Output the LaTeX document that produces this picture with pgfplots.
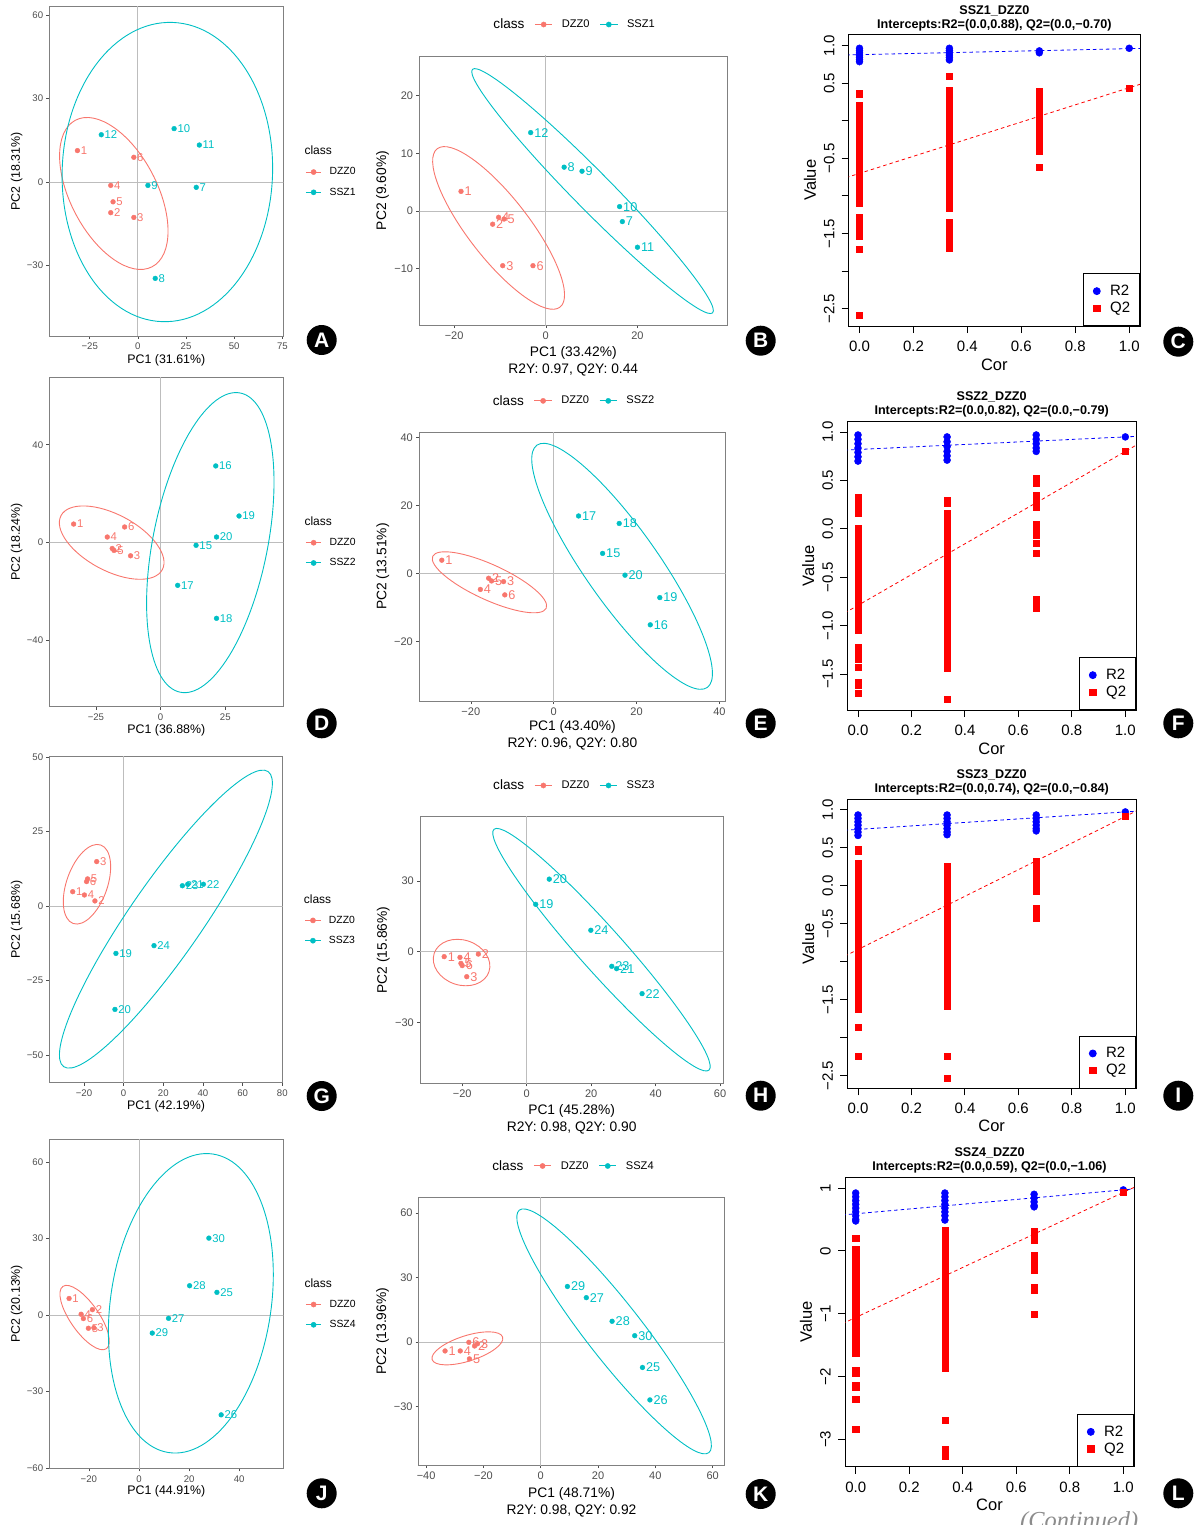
\documentclass[border=0pt]{standalone}
\usepackage{fontspec}
\setmainfont{Liberation Sans}
\newfontfamily\contfont{Liberation Serif}
\usepackage{pgfplots}
\pgfplotsset{compat=1.18}
\definecolor{gR}{HTML}{F8766D}
\definecolor{gC}{HTML}{00BFC4}
\definecolor{gtick}{HTML}{4D4D4D}
\definecolor{gframe}{HTML}{808080}
\definecolor{gref}{HTML}{BDBDBD}
\newcommand\fs[1]{\fontsize{#1}{#1}\selectfont}
\newcommand\confell[6]{\draw[#1, line width=0.9pt, rotate around={#4:(axis cs:#2,#3)}] (axis cs:#2,#3) ellipse [x radius=#5pt, y radius=#6pt];}
\newcommand\refl{\draw[gref, line width=0.8pt] (axis cs:0,-300) -- (axis cs:0,300); \draw[gref, line width=0.8pt] (axis cs:-300,0) -- (axis cs:300,0);}
\newcommand\badge[3]{\node[circle, fill=black, minimum size=30pt, inner sep=0pt, text=white, font=\fs{21}\bfseries] at (#1pt,-#2pt) {#3};}
\pgfplotsset{
 pca/.style={scale only axis, anchor=north west,
   axis line style={draw=gframe, line width=0.7pt},
   tick align=outside, tick pos=left, major tick length=3pt,
   tick style={gtick, line width=0.6pt},
   xticklabel style={text=gtick, inner sep=0pt, anchor=center, yshift=-7.5pt},
   yticklabel style={text=gtick, inner sep=0pt, anchor=east, xshift=-3pt},
   xlabel style={anchor=center, inner sep=0pt, align=center},
   ylabel style={anchor=center, inner sep=0pt},
   legend cell align=left},
 pcaL/.style={tick label style={font=\fs{9.6}}, label style={font=\fs{12.4}},
   legend style={at={(axis description cs:1.093,0.5)}, anchor=west, draw=none, fill=none, inner sep=0pt, font=\fs{10.4}, row sep=11.5pt, nodes={inner sep=0pt}, /tikz/every odd column/.append style={column sep=7.6pt}}},
 pcaM/.style={tick label style={font=\fs{11}}, label style={font=\fontsize{13.8}{16.7}\selectfont},
   legend columns=3,
   legend style={at={(axis description cs:0.211,1.117)}, anchor=west, draw=none, fill=none, inner sep=0pt, font=\fs{11.1}, nodes={inner sep=0pt}, /tikz/every odd column/.append style={column sep=9pt}, /tikz/every even column/.append style={column sep=10pt}}},
 ptbase/.style={only marks, mark=*, mark size=2.4pt, forget plot, nodes near coords, point meta=explicit symbolic},
 ptRL/.style={ptbase, color=gR, nodes near coords style={anchor=west, inner sep=0pt, xshift=3.2pt, text=gR, font=\fs{11.3}}},
 ptCL/.style={ptbase, color=gC, nodes near coords style={anchor=west, inner sep=0pt, xshift=3.2pt, text=gC, font=\fs{11.3}}},
 ptRM/.style={ptbase, color=gR, nodes near coords style={anchor=west, inner sep=0pt, xshift=3.4pt, text=gR, font=\fs{12.7}}},
 ptCM/.style={ptbase, color=gC, nodes near coords style={anchor=west, inner sep=0pt, xshift=3.4pt, text=gC, font=\fs{12.7}}},
 keyRL/.style={legend image code/.code={\draw[gR, line width=1pt] (0pt,0pt) -- (15.7pt,0pt); \fill[gR] (7.85pt,0pt) circle (2.6pt);}},
 keyCL/.style={legend image code/.code={\draw[gC, line width=1pt] (0pt,0pt) -- (15.7pt,0pt); \fill[gC] (7.85pt,0pt) circle (2.6pt);}},
 keyRM/.style={legend image code/.code={\draw[gR, line width=1pt] (0pt,0pt) -- (17.4pt,0pt); \fill[gR] (8.7pt,0pt) circle (2.6pt);}},
 keyCM/.style={legend image code/.code={\draw[gC, line width=1pt] (0pt,0pt) -- (17.4pt,0pt); \fill[gC] (8.7pt,0pt) circle (2.6pt);}},
 rplot/.style={scale only axis, anchor=north west, xmin=-0.04, xmax=1.04,
   axis line style={line width=0.9pt}, tick align=outside, tick pos=left, major tick length=7pt,
   tick style={black, line width=0.9pt},
   xtick={0,0.2,0.4,0.6,0.8,1}, xticklabels={0.0,0.2,0.4,0.6,0.8,1.0},
   tick label style={font=\fs{15}},
   xticklabel style={inner sep=0pt, anchor=center, yshift=-13.5pt},
   yticklabel style={inner sep=0pt, xshift=-12.5pt, rotate=90, anchor=center},
   xlabel={Cor}, ylabel={Value}, label style={font=\fs{16.5}},
   xlabel style={anchor=center, inner sep=0pt}, ylabel style={anchor=center, inner sep=0pt},
   title style={font=\fontsize{12.6}{14.3}\selectfont\bfseries, align=center, anchor=center, yshift=0pt, inner sep=0pt},
   legend cell align=left,
   legend style={at={(1,0)}, anchor=south east, draw=black, line width=0.8pt, fill=white, inner xsep=9.5pt, inner ysep=10.5pt, font=\fs{15}, row sep=3pt, nodes={inner ysep=1pt, inner xsep=0pt}, /tikz/every odd column/.append style={column sep=9.8pt}}},
 r2/.style={only marks, mark=*, mark size=3.5pt, color=blue},
 q2/.style={only marks, mark=square*, mark size=3.1pt, color=red},
 lnB/.style={blue, dash pattern=on 3.5pt off 3pt, line width=0.8pt, forget plot},
 lnR/.style={red, dash pattern=on 3.5pt off 3pt, line width=0.8pt, forget plot},
}
\begin{document}
\begin{tikzpicture}
\useasboundingbox (0pt,0pt) rectangle (1198pt,-1525pt);

% ---------------- A ----------------
\begin{axis}[pca, pcaL, at={(49.3pt,-6.7pt)}, width=234pt, height=329.3pt,
  xmin=-46, xmax=75.5, ymin=-55.3, ymax=63,
  xtick={-25,0,25,50,75}, xticklabels={−25,0,25,50,75},
  ytick={-30,0,30,60}, yticklabels={−30,0,30,60},
  xlabel={PC1 (31.61\%)}, ylabel={PC2 (18.31\%)},
  xlabel style={at={(axis description cs:0.5,-0.0729)}},
  ylabel style={at={(axis description cs:-0.139,0.5)}}]
\refl
\addplot[ptRL] coordinates {(-31.4,11.3)[1] (-14.1,-11.0)[2] (-2.1,-12.7)[3] (-14.1,-1.2)[4] (-12.9,-7.1)[5] (-2.1,8.9)[6]};
\addplot[ptCL] coordinates {(30.3,-1.9)[7] (9.0,-34.6)[8] (5.2,-1.2)[9] (18.8,19.2)[10] (31.9,13.3)[11] (-19.0,17.0)[12]};
\confell{gR}{-12.5}{-4.1}{-62.4}{82.7}{43.3}
\confell{gC}{15.3}{3.6}{88}{149.7}{105.2}
\addlegendimage{empty legend}\addlegendentry[font=\fs{12}]{\hspace*{-25pt}class}
\addlegendimage{keyRL}\addlegendentry{DZZ0}
\addlegendimage{keyCL}\addlegendentry{SSZ1}
\end{axis}

% ---------------- B ----------------
\begin{axis}[pca, pcaM, at={(419.3pt,-56pt)}, width=308pt, height=269pt,
  xmin=-27.6, xmax=39.6, ymin=-19.8, ymax=26.9,
  xtick={-20,0,20}, xticklabels={−20,0,20},
  ytick={-10,0,10,20}, yticklabels={−10,0,10,20},
  xlabel={PC1 (33.42\%)\\R2Y: 0.97, Q2Y: 0.44}, ylabel={PC2 (9.60\%)},
  xlabel style={at={(axis description cs:0.5,-0.134)}},
  ylabel style={at={(axis description cs:-0.119,0.5)}}]
\refl
\addplot[ptRM] coordinates {(-18.5,3.4)[1] (-11.6,-2.3)[2] (-9.4,-9.5)[3] (-10.3,-1.1)[4] (-9.1,-1.4)[5] (-2.8,-9.5)[6]};
\addplot[ptCM] coordinates {(16.7,-1.85)[7] (4.0,7.6)[8] (7.9,6.9)[9] (16.1,0.75)[10] (20.0,-6.3)[11] (-3.3,13.6)[12]};
\confell{gR}{-10.3}{-2.95}{-52.2}{100.2}{30.4}
\confell{gC}{10.2}{3.45}{-45.4}{171}{19}
\addlegendimage{empty legend}\addlegendentry[font=\fs{13.6}]{class}
\addlegendimage{keyRM}\addlegendentry{DZZ0}
\addlegendimage{keyCM}\addlegendentry{SSZ1}
\end{axis}

% ---------------- C ----------------
\begin{axis}[rplot, at={(848.7pt,-34.3pt)}, width=291.3pt, height=291.7pt,
  ymin=-2.731, ymax=1.151,
  ytick={-2.5,-2,-1.5,-1,-0.5,0,0.5,1}, yticklabels={−2.5,,−1.5,,−0.5,,0.5,1.0},
  title={SSZ1\_DZZ0\\Intercepts:R2=(0.0,0.88), Q2=(0.0,−0.70)},
  title style={at={(axis description cs:0.5,1.035)}},
  xlabel style={at={(axis description cs:0.5,-0.134)}},
  ylabel style={at={(axis description cs:-0.133,0.5)}}]
\addplot[r2] coordinates {(0,0.965)(0,0.935)(0,0.905)(0,0.875)(0,0.845)(0,0.815)(0,0.787)
 (0.3333,0.965)(0.3333,0.935)(0.3333,0.905)(0.3333,0.875)(0.3333,0.845)(0.3333,0.81)
 (0.6667,0.93)(0.6667,0.905)(1,0.965)};
\addlegendentry{R2}
\addplot[q2] coordinates {(0,0.36)(0,0.20)(0,0.14)(0,0.08)(0,0.02)(0,-0.04)(0,-0.10)(0,-0.16)(0,-0.22)(0,-0.28)(0,-0.34)(0,-0.40)(0,-0.46)(0,-0.52)(0,-0.58)(0,-0.64)(0,-0.70)(0,-0.76)(0,-0.82)(0,-0.88)(0,-0.94)(0,-1.00)(0,-1.06)(0,-1.09)(0,-1.28)(0,-1.34)(0,-1.40)(0,-1.46)(0,-1.51)(0,-1.54)(0,-1.71)(0,-2.59)
 (0.3333,0.59)(0.3333,0.41)(0.3333,0.35)(0.3333,0.29)(0.3333,0.23)(0.3333,0.17)(0.3333,0.11)(0.3333,0.05)(0.3333,-0.01)(0.3333,-0.07)(0.3333,-0.13)(0.3333,-0.19)(0.3333,-0.25)(0.3333,-0.31)(0.3333,-0.37)(0.3333,-0.43)(0.3333,-0.49)(0.3333,-0.55)(0.3333,-0.61)(0.3333,-0.67)(0.3333,-0.73)(0.3333,-0.79)(0.3333,-0.85)(0.3333,-0.91)(0.3333,-0.97)(0.3333,-1.03)(0.3333,-1.09)(0.3333,-1.15)(0.3333,-1.165)(0.3333,-1.35)(0.3333,-1.41)(0.3333,-1.47)(0.3333,-1.53)(0.3333,-1.59)(0.3333,-1.65)(0.3333,-1.70)
 (0.6667,0.39)(0.6667,0.33)(0.6667,0.27)(0.6667,0.21)(0.6667,0.15)(0.6667,0.09)(0.6667,0.03)(0.6667,-0.03)(0.6667,-0.09)(0.6667,-0.15)(0.6667,-0.21)(0.6667,-0.27)(0.6667,-0.33)(0.6667,-0.39)(0.6667,-0.41)(0.6667,-0.615)
 (1,0.43)};
\addlegendentry{Q2}
\addplot[lnB] coordinates {(-0.05,0.876)(1.05,0.964)};
\addplot[lnR] coordinates {(-0.05,-0.757)(1.05,0.497)};
\end{axis}

% ---------------- D ----------------
\begin{axis}[pca, pcaL, at={(49.3pt,-377.3pt)}, width=234pt, height=329.4pt,
  xmin=-43, xmax=47.4, ymin=-67.3, ymax=67.6,
  xtick={-25,0,25}, xticklabels={−25,0,25},
  ytick={-40,0,40}, yticklabels={−40,0,40},
  xlabel={PC1 (36.88\%)}, ylabel={PC2 (18.24\%)},
  xlabel style={at={(axis description cs:0.5,-0.0729)}},
  ylabel style={at={(axis description cs:-0.139,0.5)}}]
\refl
\addplot[ptRL] coordinates {(-33.6,7.5)[1] (-18.7,-2.5)[2] (-11.6,-5.5)[3] (-20.6,2.2)[4] (-18.0,-3.3)[5] (-13.9,6.3)[6]};
\addplot[ptCL] coordinates {(13.7,-1.2)[15] (21.3,31.3)[16] (6.6,-17.6)[17] (21.6,-31.1)[18] (30.3,10.8)[19] (21.6,2.2)[20]};
\confell{gR}{-18.9}{-0.1}{-28.1}{57.4}{28.1}
\confell{gC}{19.2}{-0.1}{78.65}{152.6}{57.3}
\addlegendimage{empty legend}\addlegendentry[font=\fs{12}]{\hspace*{-25pt}class}
\addlegendimage{keyRL}\addlegendentry{DZZ0}
\addlegendimage{keyCL}\addlegendentry{SSZ2}
\end{axis}

% ---------------- E ----------------
\begin{axis}[pca, pcaM, at={(419pt,-432.3pt)}, width=306.7pt, height=268.7pt,
  xmin=-32.5, xmax=41.5, ymin=-37.5, ymax=41.5,
  xtick={-20,0,20,40}, xticklabels={−20,0,20,40},
  ytick={-20,0,20,40}, yticklabels={−20,0,20,40},
  xlabel={PC1 (43.40\%)\\R2Y: 0.96, Q2Y: 0.80}, ylabel={PC2 (13.51\%)},
  xlabel style={at={(axis description cs:0.5,-0.128)}},
  ylabel style={at={(axis description cs:-0.118,0.5)}}]
\refl
\addplot[ptRM] coordinates {(-27.0,3.9)[1] (-15.7,-1.4)[2] (-12.1,-2.4)[3] (-17.7,-4.7)[4] (-15.0,-2.2)[5] (-11.8,-6.3)[6]};
\addplot[ptCM] coordinates {(11.8,5.9)[15] (23.3,-15.1)[16] (6.0,16.9)[17] (15.8,14.7)[18] (25.6,-7.1)[19] (17.2,-0.5)[20]};
\confell{gR}{-15.5}{-2.6}{-24.6}{62.4}{17.6}
\confell{gC}{16.5}{2.1}{-54.9}{148.1}{36.8}
\addlegendimage{empty legend}\addlegendentry[font=\fs{13.6}]{class}
\addlegendimage{keyRM}\addlegendentry{DZZ0}
\addlegendimage{keyCM}\addlegendentry{SSZ2}
\end{axis}

% ---------------- F ----------------
\begin{axis}[rplot, at={(847.3pt,-421.7pt)}, width=288.7pt, height=288.3pt,
  ymin=-1.871, ymax=1.107,
  ytick={-1.5,-1,-0.5,0,0.5,1}, yticklabels={−1.5,−1.0,−0.5,0.0,0.5,1.0},
  title={SSZ2\_DZZ0\\Intercepts:R2=(0.0,0.82), Q2=(0.0,−0.79)},
  title style={at={(axis description cs:0.5,1.039)}},
  xlabel style={at={(axis description cs:0.5,-0.133)}},
  ylabel style={at={(axis description cs:-0.135,0.5)}}]
\addplot[r2] coordinates {(0,0.97)(0,0.925)(0,0.88)(0,0.835)(0,0.79)(0,0.745)(0,0.70)
 (0.3333,0.95)(0.3333,0.90)(0.3333,0.85)(0.3333,0.80)(0.3333,0.755)(0.3333,0.71)
 (0.6667,0.97)(0.6667,0.925)(0.6667,0.88)(0.6667,0.835)(0.6667,0.80)(1,0.95)};
\addlegendentry{R2}
\addplot[q2] coordinates {(0,0.33)(0,0.27)(0,0.21)(0,0.16)(0,0.01)(0,-0.05)(0,-0.11)(0,-0.17)(0,-0.23)(0,-0.29)(0,-0.35)(0,-0.41)(0,-0.47)(0,-0.53)(0,-0.59)(0,-0.65)(0,-0.71)(0,-0.77)(0,-0.83)(0,-0.89)(0,-0.95)(0,-1.01)(0,-1.05)(0,-1.22)(0,-1.28)(0,-1.34)(0,-1.43)(0,-1.58)(0,-1.61)(0,-1.70)
 (0.3333,0.29)(0.3333,0.27)(0.3333,0.16)(0.3333,0.10)(0.3333,0.04)(0.3333,-0.02)(0.3333,-0.08)(0.3333,-0.14)(0.3333,-0.20)(0.3333,-0.26)(0.3333,-0.32)(0.3333,-0.38)(0.3333,-0.44)(0.3333,-0.50)(0.3333,-0.56)(0.3333,-0.62)(0.3333,-0.68)(0.3333,-0.74)(0.3333,-0.80)(0.3333,-0.86)(0.3333,-0.92)(0.3333,-0.98)(0.3333,-1.04)(0.3333,-1.10)(0.3333,-1.16)(0.3333,-1.22)(0.3333,-1.28)(0.3333,-1.34)(0.3333,-1.40)(0.3333,-1.44)(0.3333,-1.76)
 (0.6667,0.52)(0.6667,0.47)(0.6667,0.35)(0.6667,0.29)(0.6667,0.23)(0.6667,0.05)(0.6667,-0.01)(0.6667,-0.06)(0.6667,-0.15)(0.6667,-0.255)(0.6667,-0.73)(0.6667,-0.78)(0.6667,-0.82)
 (1,0.80)};
\addlegendentry{Q2}
\addplot[lnB] coordinates {(-0.05,0.8135)(1.05,0.9565)};
\addplot[lnR] coordinates {(-0.05,-0.8695)(1.05,0.8795)};
\end{axis}

% ---------------- G ----------------
\begin{axis}[pca, pcaL, at={(49.3pt,-756.7pt)}, width=233.4pt, height=326pt,
  xmin=-37.5, xmax=80.2, ymin=-59.3, ymax=50.1,
  xtick={-20,0,20,40,60,80}, xticklabels={−20,0,20,40,60,80},
  ytick={-50,-25,0,25,50}, yticklabels={−50,−25,0,25,50},
  xlabel={PC1 (42.19\%)}, ylabel={PC2 (15.68\%)},
  xlabel style={at={(axis description cs:0.5,-0.0715)}},
  ylabel style={at={(axis description cs:-0.1397,0.5)}}]
\refl
\addplot[ptRL] coordinates {(-25.7,4.8)[1] (-14.5,1.7)[2] (-13.6,14.9)[3] (-19.8,3.7)[4] (-18.2,9.1)[5] (-18.7,8.2)[6]};
\addplot[ptCL] coordinates {(-3.9,-15.9)[19] (-4.4,-34.7)[20] (32.3,7.3)[21] (40.2,7.3)[22] (29.6,6.8)[23] (15.3,-13.3)[24]};
\confell{gR}{-18.5}{7.3}{70.6}{41.6}{20.4}
\confell{gC}{21.3}{-4.4}{55.3}{179.5}{36.3}
\addlegendimage{empty legend}\addlegendentry[font=\fs{12}]{\hspace*{-25pt}class}
\addlegendimage{keyRL}\addlegendentry{DZZ0}
\addlegendimage{keyCL}\addlegendentry{SSZ3}
\end{axis}

% ---------------- H ----------------
\begin{axis}[pca, pcaM, at={(420pt,-816.7pt)}, width=303.3pt, height=266.7pt,
  xmin=-33.1, xmax=61, ymin=-55.9, ymax=57.3,
  xtick={-20,0,20,40,60}, xticklabels={−20,0,20,40,60},
  ytick={-30,0,30}, yticklabels={−30,0,30},
  xlabel={PC1 (45.28\%)\\R2Y: 0.98, Q2Y: 0.90}, ylabel={PC2 (15.86\%)},
  xlabel style={at={(axis description cs:0.5,-0.134)}},
  ylabel style={at={(axis description cs:-0.121,0.5)}}]
\refl
\addplot[ptRM] coordinates {(-25.6,-2.1)[1] (-15.0,-1.0)[2] (-18.6,-10.6)[3] (-20.7,-2.4)[4] (-20.4,-4.95)[5] (-20.0,-5.9)[6]};
\addplot[ptCM] coordinates {(2.8,20.1)[19] (7.0,30.8)[20] (27.9,-7.2)[21] (35.8,-17.8)[22] (26.4,-6.2)[23] (19.9,9.1)[24]};
\confell{gR}{-20.2}{-4.6}{-18.6}{28.9}{22.5}
\confell{gC}{23.2}{0.85}{-48.25}{161.4}{22}
\addlegendimage{empty legend}\addlegendentry[font=\fs{13.6}]{class}
\addlegendimage{keyRM}\addlegendentry{DZZ0}
\addlegendimage{keyCM}\addlegendentry{SSZ3}
\end{axis}

% ---------------- I ----------------
\begin{axis}[rplot, at={(847.3pt,-799pt)}, width=288.7pt, height=289.3pt,
  ymin=-2.667, ymax=1.14,
  ytick={-2.5,-2,-1.5,-1,-0.5,0,0.5,1}, yticklabels={−2.5,,−1.5,,−0.5,0.0,0.5,1.0},
  title={SSZ3\_DZZ0\\Intercepts:R2=(0.0,0.74), Q2=(0.0,−0.84)},
  title style={at={(axis description cs:0.5,1.0375)}},
  xlabel style={at={(axis description cs:0.5,-0.130)}},
  ylabel style={at={(axis description cs:-0.135,0.5)}}]
\addplot[r2] coordinates {(0,0.93)(0,0.885)(0,0.84)(0,0.795)(0,0.75)(0,0.705)(0,0.66)
 (0.3333,0.93)(0.3333,0.885)(0.3333,0.84)(0.3333,0.795)(0.3333,0.75)(0.3333,0.705)(0.3333,0.67)
 (0.6667,0.93)(0.6667,0.885)(0.6667,0.84)(0.6667,0.795)(0.6667,0.75)(0.6667,0.72)(1,0.97)};
\addlegendentry{R2}
\addplot[q2] coordinates {(0,0.48)(0,0.46)(0,0.30)(0,0.24)(0,0.18)(0,0.12)(0,0.06)(0,0.00)(0,-0.06)(0,-0.12)(0,-0.18)(0,-0.24)(0,-0.30)(0,-0.36)(0,-0.42)(0,-0.48)(0,-0.54)(0,-0.60)(0,-0.66)(0,-0.72)(0,-0.78)(0,-0.84)(0,-0.90)(0,-0.96)(0,-1.02)(0,-1.08)(0,-1.14)(0,-1.20)(0,-1.26)(0,-1.32)(0,-1.38)(0,-1.44)(0,-1.50)(0,-1.56)(0,-1.63)(0,-1.86)(0,-2.24)
 (0.3333,0.25)(0.3333,0.19)(0.3333,0.13)(0.3333,0.07)(0.3333,0.01)(0.3333,-0.05)(0.3333,-0.11)(0.3333,-0.17)(0.3333,-0.23)(0.3333,-0.29)(0.3333,-0.35)(0.3333,-0.41)(0.3333,-0.47)(0.3333,-0.53)(0.3333,-0.59)(0.3333,-0.65)(0.3333,-0.71)(0.3333,-0.77)(0.3333,-0.83)(0.3333,-0.89)(0.3333,-0.95)(0.3333,-1.01)(0.3333,-1.07)(0.3333,-1.13)(0.3333,-1.19)(0.3333,-1.25)(0.3333,-1.31)(0.3333,-1.37)(0.3333,-1.43)(0.3333,-1.49)(0.3333,-1.55)(0.3333,-1.59)(0.3333,-2.24)(0.3333,-2.53)
 (0.6667,0.32)(0.6667,0.26)(0.6667,0.20)(0.6667,0.14)(0.6667,0.08)(0.6667,0.02)(0.6667,-0.04)(0.6667,-0.07)(0.6667,-0.30)(0.6667,-0.36)(0.6667,-0.43)
 (1,0.91)};
\addlegendentry{Q2}
\addplot[lnB] coordinates {(-0.05,0.7285)(1.05,0.9815)};
\addplot[lnR] coordinates {(-0.05,-0.9275)(1.05,0.9975)};
\end{axis}

% ---------------- J ----------------
\begin{axis}[pca, pcaL, at={(49.3pt,-1139.3pt)}, width=234pt, height=329pt,
  xmin=-35.8, xmax=57.6, ymin=-60.2, ymax=69,
  xtick={-20,0,20,40}, xticklabels={−20,0,20,40},
  ytick={-60,-30,0,30,60}, yticklabels={−60,−30,0,30,60},
  xlabel={PC1 (44.91\%)}, ylabel={PC2 (20.13\%)},
  xlabel style={at={(axis description cs:0.5,-0.071)}},
  ylabel style={at={(axis description cs:-0.139,0.5)}}]
\refl
\addplot[ptRL] coordinates {(-27.9,6.5)[1] (-18.6,2.1)[2] (-18.0,-5.0)[3] (-23.1,0.3)[4] (-20.2,-5.2)[5] (-22.2,-1.4)[6]};
\addplot[ptCL] coordinates {(31.1,8.9)[25] (32.8,-39.2)[26] (11.8,-1.3)[27] (20.2,11.5)[28] (5.3,-7.1)[29] (27.9,30.2)[30]};
\confell{gR}{-21.7}{-1.0}{-55.1}{38.0}{14.3}
\confell{gC}{20.7}{4.6}{81.6}{150.9}{80.3}
\addlegendimage{empty legend}\addlegendentry[font=\fs{12}]{\hspace*{-25pt}class}
\addlegendimage{keyRL}\addlegendentry{DZZ0}
\addlegendimage{keyCL}\addlegendentry{SSZ4}
\end{axis}

% ---------------- K ----------------
\begin{axis}[pca, pcaM, at={(418.7pt,-1197.3pt)}, width=305.7pt, height=267.7pt,
  xmin=-42.6, xmax=64.1, ymin=-57.3, ymax=67.3,
  xtick={-40,-20,0,20,40,60}, xticklabels={−40,−20,0,20,40,60},
  ytick={-30,0,30,60}, yticklabels={−30,0,30,60},
  xlabel={PC1 (48.71\%)\\R2Y: 0.98, Q2Y: 0.92}, ylabel={PC2 (13.96\%)},
  xlabel style={at={(axis description cs:0.5,-0.139)}},
  ylabel style={at={(axis description cs:-0.118,0.5)}}]
\refl
\addplot[ptRM] coordinates {(-33.4,-4.2)[1] (-23.1,-1.9)[2] (-22.1,-0.9)[3] (-28.1,-4.2)[4] (-24.9,-7.9)[5] (-25.1,-0.2)[6]};
\addplot[ptCM] coordinates {(35.5,-11.9)[25] (38.1,-27.0)[26] (15.9,20.6)[27] (24.9,9.6)[28] (9.3,25.8)[29] (32.8,2.9)[30]};
\confell{gR}{-25.6}{-3.0}{17.7}{37.0}{12.7}
\confell{gC}{25.6}{4.9}{-52}{153.9}{28}
\addlegendimage{empty legend}\addlegendentry[font=\fs{13.6}]{class}
\addlegendimage{keyRM}\addlegendentry{DZZ0}
\addlegendimage{keyCM}\addlegendentry{SSZ4}
\end{axis}

% ---------------- L ----------------
\begin{axis}[rplot, at={(845pt,-1177.3pt)}, width=289pt, height=289.4pt,
  ymin=-3.435, ymax=1.17,
  ytick={-3,-2,-1,0,1}, yticklabels={−3,−2,−1,0,1},
  title={SSZ4\_DZZ0\\Intercepts:R2=(0.0,0.59), Q2=(0.0,−1.06)},
  title style={at={(axis description cs:0.5,1.0375)}},
  xlabel style={at={(axis description cs:0.5,-0.132)}},
  ylabel style={at={(axis description cs:-0.135,0.5)}}]
\addplot[r2] coordinates {(0,0.92)(0,0.86)(0,0.80)(0,0.74)(0,0.68)(0,0.62)(0,0.56)(0,0.50)(0,0.475)
 (0.3333,0.92)(0.3333,0.86)(0.3333,0.80)(0.3333,0.74)(0.3333,0.68)(0.3333,0.62)(0.3333,0.56)(0.3333,0.49)
 (0.6667,0.90)(0.6667,0.84)(0.6667,0.78)(0.6667,0.72)(0.6667,0.70)(1,0.97)};
\addlegendentry{R2}
\addplot[q2] coordinates {(0,0.20)(0,0.03)(0,-0.06)(0,-0.15)(0,-0.24)(0,-0.33)(0,-0.42)(0,-0.51)(0,-0.60)(0,-0.69)(0,-0.78)(0,-0.87)(0,-0.96)(0,-1.05)(0,-1.14)(0,-1.23)(0,-1.32)(0,-1.41)(0,-1.50)(0,-1.59)(0,-1.63)(0,-1.90)(0,-1.94)(0,-2.14)(0,-2.17)(0,-2.36)(0,-2.84)
 (0.3333,0.32)(0.3333,0.23)(0.3333,0.14)(0.3333,0.05)(0.3333,-0.04)(0.3333,-0.13)(0.3333,-0.22)(0.3333,-0.31)(0.3333,-0.40)(0.3333,-0.49)(0.3333,-0.58)(0.3333,-0.67)(0.3333,-0.76)(0.3333,-0.85)(0.3333,-0.94)(0.3333,-1.03)(0.3333,-1.12)(0.3333,-1.21)(0.3333,-1.30)(0.3333,-1.39)(0.3333,-1.48)(0.3333,-1.57)(0.3333,-1.66)(0.3333,-1.75)(0.3333,-1.86)(0.3333,-2.70)(0.3333,-3.15)(0.3333,-3.27)
 (0.6667,0.31)(0.6667,0.24)(0.6667,0.17)(0.6667,-0.07)(0.6667,-0.15)(0.6667,-0.23)(0.6667,-0.30)(0.6667,-0.58)(0.6667,-0.63)(0.6667,-1.01)
 (1,0.93)};
\addlegendentry{Q2}
\addplot[lnB] coordinates {(-0.05,0.571)(1.05,0.989)};
\addplot[lnR] coordinates {(-0.05,-1.1595)(1.05,1.0295)};
\end{axis}

% panel letters
\badge{321.7}{340}{A}
\badge{760.7}{340.7}{B}
\badge{1178.3}{341.7}{C}
\badge{321.7}{723.3}{D}
\badge{760.7}{723.3}{E}
\badge{1178.3}{723.3}{F}
\badge{321.7}{1096}{G}
\badge{760.7}{1095.7}{H}
\badge{1178.3}{1095.7}{I}
\badge{321.7}{1493.3}{J}
\badge{760.7}{1494}{K}
\badge{1178.3}{1493.3}{L}
\node[anchor=base west, inner sep=0pt, text=black!45, font=\contfont\itshape\fs{24.4}] at (1020pt,-1528pt) {(Continued)};
\end{tikzpicture}
\end{document}
